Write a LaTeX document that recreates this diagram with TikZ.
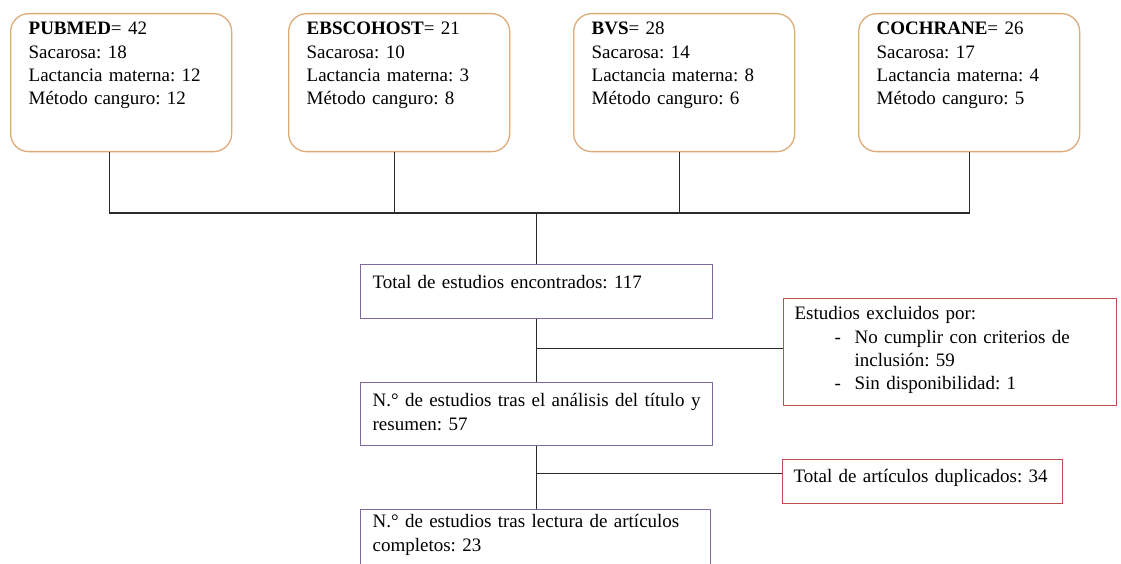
\documentclass[tikz,border=0pt]{standalone}
\usepackage{fontspec}
\setmainfont{Liberation Serif}
\usepackage{tikz}
\usetikzlibrary{positioning,calc}

\definecolor{srcorange}{HTML}{DDAA78}
\definecolor{stagepurple}{HTML}{7E6A9E}
\definecolor{exclred}{HTML}{C0504D}
\definecolor{linegray}{HTML}{2A2A2A}

\frenchspacing

\begin{document}
\begin{tikzpicture}[x=1pt,y=-1pt,font=\fontsize{19}{23.4}\selectfont]
    % Define styles
    \tikzstyle{source} = [rectangle, rounded corners=18pt, draw=srcorange, line width=1.3pt, anchor=north west, align=left, text width=185pt, inner xsep=18pt, inner ysep=0pt, text height=21pt, text depth=117pt]
    \tikzstyle{stagebox} = [rectangle, draw=stagepurple, line width=1.2pt, anchor=north west, align=left, inner ysep=0pt, inner xsep=12pt]
    \tikzstyle{excluded} = [rectangle, draw=exclred, line width=1.2pt, anchor=north west, align=left, inner ysep=0pt, inner xsep=11pt]
    \tikzstyle{link} = [line width=1.2pt, draw=linegray]

    \useasboundingbox (0,0) rectangle (1121,564);
    \clip (0,0) rectangle (1121,564);

    % Nodes
    \node (pubmed) [source] at (10,13) {\textbf{PUBMED}= 42\\Sacarosa: 18\\Lactancia materna: 12\\Método canguro: 12};
    \node (ebsco) [source] at (288,13) {\textbf{EBSCOHOST}= 21\\Sacarosa: 10\\Lactancia materna: 3\\Método canguro: 8};
    \node (bvs) [source] at (573,13) {\textbf{BVS}= 28\\Sacarosa: 14\\Lactancia materna: 8\\Método canguro: 6};
    \node (cochrane) [source] at (858,13) {\textbf{COCHRANE}= 26\\Sacarosa: 17\\Lactancia materna: 4\\Método canguro: 5};

    \node (total) [stagebox, text width=328pt, text height=24pt, text depth=30pt] at (360,264) {\mbox{Total de estudios encontrados: 117}};
    \node (screen) [stagebox, text width=328pt, text height=24pt, text depth=39pt] at (360,382) {\mbox{N.° de estudios tras el análisis del título y}\\resumen: 57};
    \node (full) [stagebox, text width=326pt, text height=18pt, text depth=80pt] at (360,509) {\mbox{N.° de estudios tras lectura de artículos}\\completos: 23};

    \node (excl) [excluded, text width=311pt, text height=21pt, text depth=86pt] at (783,298) {Estudios excluidos por:\\
        \hspace*{40pt}\makebox[20pt][l]{-}No cumplir con criterios de\\
        \hspace*{60pt}inclusión: 59\\
        \hspace*{40pt}\makebox[20pt][l]{-}Sin disponibilidad: 1};
    \node (dup) [excluded, text width=258pt, text height=23pt, text depth=21pt] at (782,459) {\mbox{Total de artículos duplicados: 34}};

    \coordinate (bus) at (total.north |- 0,213);
    \coordinate (cut1) at ($(total.south)!0.47!(total.south |- screen.north)$);
    \coordinate (cut2) at ($(screen.south)!0.44!(screen.south |- full.north)$);

    % Lines
    \draw [link] ([xshift=-12pt]pubmed.south) |- (bus);
    \draw [link] ([xshift=-5pt]ebsco.south) |- (bus);
    \draw [link] ([xshift=-5pt]bvs.south) |- (bus);
    \draw [link] (cochrane.south) |- (bus);
    \draw [link] (bus) -- (total.north);
    \draw [link] (total.south) -- (total.south |- screen.north);
    \draw [link] (cut1) -- (cut1 -| excl.west);
    \draw [link] (screen.south) -- (screen.south |- full.north);
    \draw [link] (cut2) -- (cut2 -| dup.west);
\end{tikzpicture}
\end{document}
